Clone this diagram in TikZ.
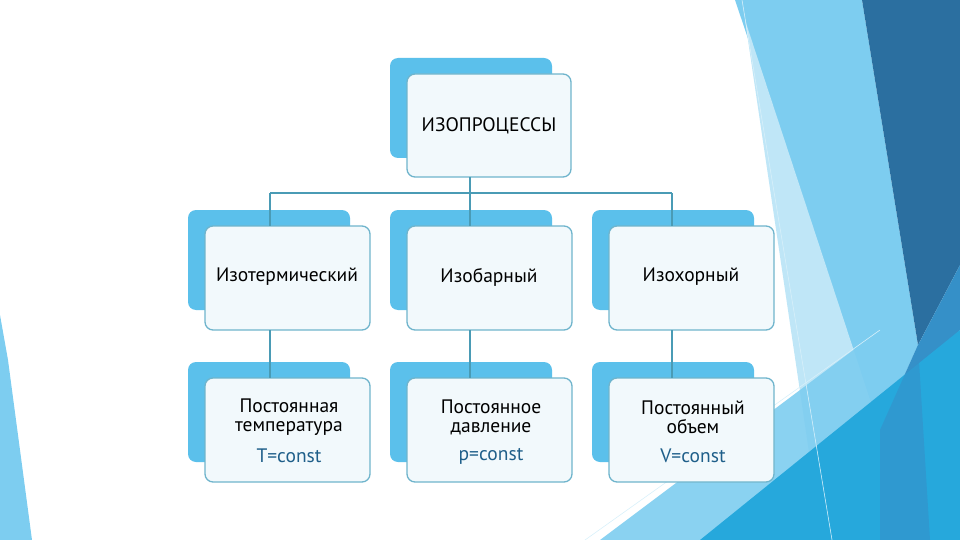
\documentclass[tikz,border=0pt]{standalone}
\usepackage{fontspec}
\setmainfont{PT Sans}
\begin{document}
\begin{tikzpicture}[x=1pt,y=-1pt,
 back/.style={fill=cyanB,rounded corners=8pt},
 front/.style={fill=boxF,draw=boxD,line width=1.3pt,rounded corners=8pt},
 lbl/.style={font=\fontsize{19.5}{19}\selectfont,align=center,text=black},
 conn/.style={draw=lineC,line width=1.3pt}]
\definecolor{cyanB}{HTML}{5BC0EB}
\definecolor{boxF}{HTML}{F2F9FC}
\definecolor{boxD}{HTML}{6FB4CC}
\definecolor{lineC}{HTML}{4A9BB5}
\definecolor{dkB}{HTML}{2B6FA0}
\definecolor{mdB}{HTML}{3590C8}
\definecolor{ltB}{HTML}{7DCDF0}
\definecolor{brB}{HTML}{26A8DC}
\definecolor{paleB}{HTML}{BFE6F7}
\definecolor{constC}{HTML}{1F5F8A}
\useasboundingbox (0,0) rectangle (960,540);
% background decoration
\fill[ltB] (735,0) -- (862,0) -- (918,345) -- (880,430) -- cycle;
\fill[paleB] (745,20) -- (880,430) -- (835,540) -- (822,540) -- cycle;
\fill[dkB] (862,0) -- (960,0) -- (960,265) -- (918,345) -- cycle;
\fill[mdB] (918,345) -- (960,265) -- (960,330) -- (880,430) -- cycle;
\fill[ltB,opacity=0.9] (600,540) -- (880,330) -- (900,540) -- cycle;
\fill[brB] (700,540) -- (960,330) -- (960,540) -- cycle;
\fill[mdB,opacity=0.6] (880,430) -- (918,345) -- (930,540) -- (880,540) -- cycle;
\draw[white!70!ltB,line width=0.6pt] (742,0) -- (832,540);
\draw[white!70!ltB,line width=0.6pt] (585,540) -- (880,330);
\fill[ltB] (0,315) -- (8,360) -- (32,540) -- (0,540) -- cycle;
% boxes
\fill[back] (390,58) rectangle (552,158);
\path[front] (407,74) rectangle (571,177);
\node[lbl] (top) at (489,126) {ИЗОПРОЦЕССЫ};
\foreach \dx/\n/\t in {0/a/Изотермический,202/b/Изобарный,404/c/Изохорный}{
 \fill[back] (188+\dx,210) rectangle (350+\dx,310);
 \path[front] (205+\dx,226) rectangle (370+\dx,330);
 \node[lbl] (\n) at (287+\dx,277) {\t};
}
\foreach \dx/\n/\t/\c in {0/d/{Постоянная\\температура}/T=const,202/e/{Постоянное\\давление}/p=const,404/f/{Постоянный\\объем}/V=const}{
 \fill[back] (188+\dx,362) rectangle (350+\dx,462);
 \path[front] (205+\dx,378) rectangle (370+\dx,482);
 \node[lbl,inner sep=0pt] (\n) at (289+\dx,417) {\t};
 \node[lbl,text=constC,inner sep=0pt] (\n c) at (289+\dx,456) {\c};
}
\coordinate (hL) at (270,193); \coordinate (hR) at (672,193);
\coordinate (hM) at (470,193);
\draw[conn] (470,177) -- (hM);
\draw[conn] (hL) -- (hR);
\draw[conn] (hL) -- (270,226);
\draw[conn] (hM) -- (470,226);
\draw[conn] (hR) -- (672,226);
\draw[conn] (270,330) -- (270,378);
\draw[conn] (470,330) -- (470,378);
\draw[conn] (672,330) -- (672,378);
\end{tikzpicture}
\end{document}
